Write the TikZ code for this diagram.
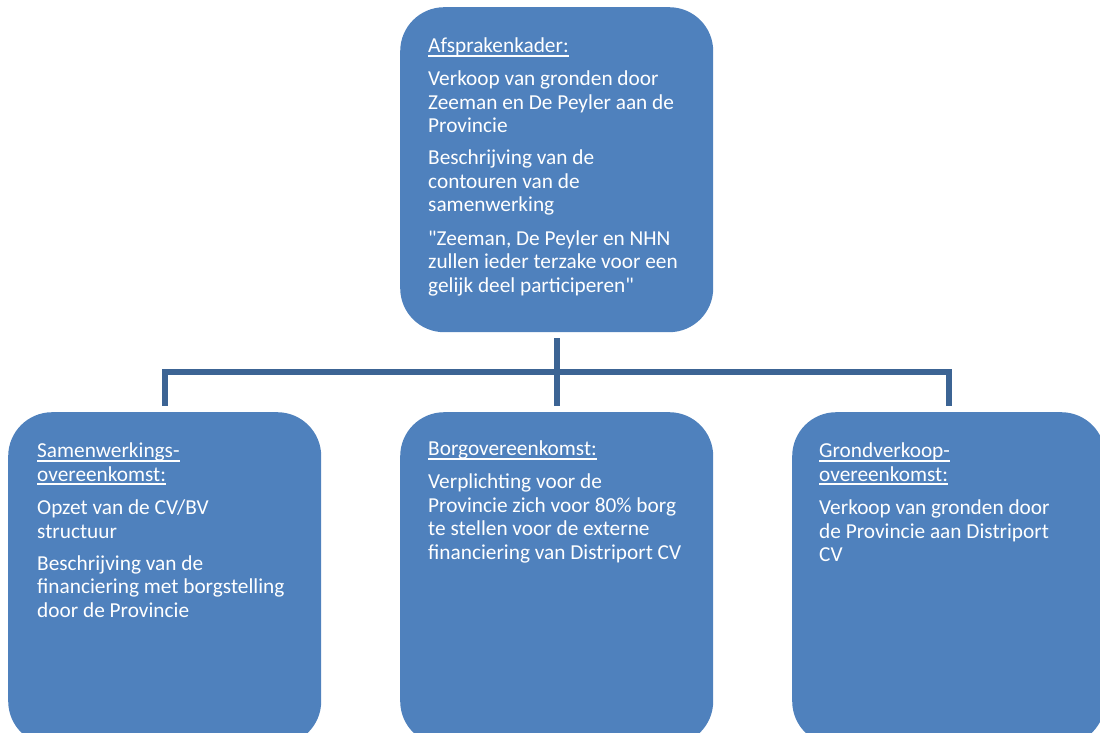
\documentclass[tikz,border=0pt]{standalone}
\usepackage{fontspec}
\setmainfont{Carlito}[Ligatures=TeXOff]
\usetikzlibrary{positioning}

\definecolor{boxblue}{HTML}{4F81BD}
\definecolor{linkblue}{HTML}{3C6494}

% underlined heading with a thicker rule
\newcommand{\kop}[1]{\setbox0\hbox{#1}\rlap{\rule[-3.8pt]{\wd0}{1.8pt}}\box0}

\tikzset{
  blok/.style={rectangle, rounded corners=44pt, fill=boxblue, minimum width=313pt, minimum height=333pt, inner sep=0pt, anchor=north west},
  tekst/.style={anchor=north west, inner sep=0pt, align=left, text=white, font=\fontsize{21.3}{23.5}\selectfont},
  link/.style={draw=linkblue, line width=6pt}
}

\begin{document}
\begin{tikzpicture}[x=1pt,y=-1pt]
\useasboundingbox (0,0) rectangle (1100,733);
\clip (0,0) rectangle (1100,733);

% boxes
\node[blok, minimum height=325pt] (kader) at (400,7){};
\node[blok] (samen) at (8,412){};
\node[blok] (borg) at (400,412){};
\node[blok] (grond) at (792,412){};

% texts
\node[tekst] (kadertxt) at (428,38) {\kop{Afsprakenkader:}\\[9.5pt]
Verkoop van gronden door\\ Zeeman en De Peyler aan de\\ Provincie\\[8.5pt]
Beschrijving van de\\ contouren van de\\ samenwerking\\[10pt]
"Zeeman, De Peyler en NHN\\ zullen ieder terzake voor een\\ gelijk deel participeren"};
\node[tekst] (samentxt) at (37,443) {\kop{Samenwerkings-}\\ \kop{overeenkomst:}\\[10pt]
Opzet van de CV/BV\\ structuur\\[8.5pt]
Beschrijving van de\\ financiering met borgstelling\\ door de Provincie};
\node[tekst] (borgtxt) at (428,441) {\kop{Borgovereenkomst:}\\[9.5pt]
Verplichting voor de\\ Provincie zich voor 80\% borg\\ te stellen voor de externe\\ financiering van Distriport CV};
\node[tekst] (grondtxt) at (819,443) {\kop{Grondverkoop-}\\ \kop{overeenkomst:}\\[10pt]
Verkoop van gronden door\\ de Provincie aan Distriport\\ CV};

% connectors
\path (kader.south) ++(0,40) coordinate (knik);
\draw[link] ([yshift=-6pt]kader.south) -- (knik);
\draw[link] (knik) -| ([yshift=6pt]samen.north);
\draw[link] (knik) -- ([yshift=6pt]borg.north);
\draw[link] (knik) -| ([yshift=6pt]grond.north);

\end{tikzpicture}
\end{document}
